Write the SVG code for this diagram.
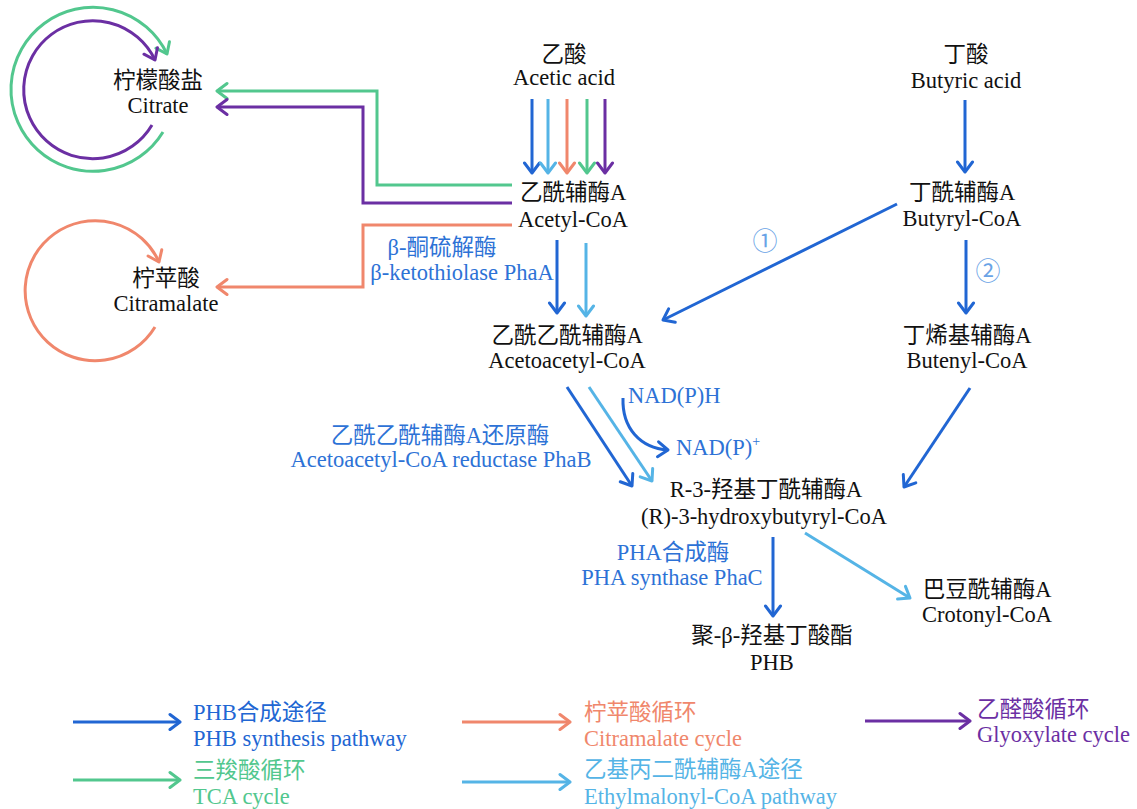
<svg xmlns="http://www.w3.org/2000/svg" width="1137" height="809" viewBox="0 0 1137 809">
<style>
text{font-family:"Liberation Serif","Noto Sans CJK SC",serif;font-size:22.5px;fill:#111}
.c{text-anchor:middle}
.lb{fill:#2d72d6;font-size:22.5px}
.ln{fill:none;stroke-width:3;stroke-linecap:butt;stroke-linejoin:miter}
.b{stroke:#2166d3}.lt{stroke:#55b4e6}.s{stroke:#f0876c}.g{stroke:#52c78e}.p{stroke:#6b2fa3}
</style>
<defs>
<marker id="mb" viewBox="-12 -10 14 20" markerWidth="14" markerHeight="20" refX="0" refY="0" orient="auto" markerUnits="userSpaceOnUse"><path d="M-10,-7.5 L0,0 L-10,7.5" fill="none" stroke="#2166d3" stroke-width="3" stroke-linecap="round" stroke-linejoin="round"/></marker>
<marker id="ml" viewBox="-12 -10 14 20" markerWidth="14" markerHeight="20" refX="0" refY="0" orient="auto" markerUnits="userSpaceOnUse"><path d="M-10,-7.5 L0,0 L-10,7.5" fill="none" stroke="#55b4e6" stroke-width="3" stroke-linecap="round" stroke-linejoin="round"/></marker>
<marker id="ms" viewBox="-12 -10 14 20" markerWidth="14" markerHeight="20" refX="0" refY="0" orient="auto" markerUnits="userSpaceOnUse"><path d="M-10,-7.5 L0,0 L-10,7.5" fill="none" stroke="#f0876c" stroke-width="3" stroke-linecap="round" stroke-linejoin="round"/></marker>
<marker id="mg" viewBox="-12 -10 14 20" markerWidth="14" markerHeight="20" refX="0" refY="0" orient="auto" markerUnits="userSpaceOnUse"><path d="M-10,-7.5 L0,0 L-10,7.5" fill="none" stroke="#52c78e" stroke-width="3" stroke-linecap="round" stroke-linejoin="round"/></marker>
<marker id="mp" viewBox="-12 -10 14 20" markerWidth="14" markerHeight="20" refX="0" refY="0" orient="auto" markerUnits="userSpaceOnUse"><path d="M-10,-7.5 L0,0 L-10,7.5" fill="none" stroke="#6b2fa3" stroke-width="3" stroke-linecap="round" stroke-linejoin="round"/></marker>
</defs>
<rect width="1137" height="809" fill="#fff"/>

<g id="connectors">
<line class="ln b" x1="532" y1="99" x2="532" y2="173" marker-end="url(#mb)"/>
<line class="ln lt" x1="548" y1="99" x2="548" y2="173" marker-end="url(#ml)"/>
<line class="ln s" x1="567" y1="99" x2="567" y2="173" marker-end="url(#ms)"/>
<line class="ln g" x1="587" y1="99" x2="587" y2="173" marker-end="url(#mg)"/>
<line class="ln p" x1="605" y1="99" x2="605" y2="173" marker-end="url(#mp)"/>
<polyline class="ln g" points="512,185 377,185 377,91 217,91" marker-end="url(#mg)"/>
<polyline class="ln p" points="512,203 363,203 363,107 217,107" marker-end="url(#mp)"/>
<polyline class="ln s" points="512,225 363,225 363,287 217,287" marker-end="url(#ms)"/>
<path class="ln g" d="M163,132 A82,82 0 1 1 167,54" marker-end="url(#mg)"/>
<path class="ln p" d="M152,125 A69,69 0 1 1 155,60" marker-end="url(#mp)"/>
<path class="ln s" d="M155,327 A70,70 0 1 1 159,262" marker-end="url(#ms)"/>
<line class="ln b" x1="557" y1="240" x2="557" y2="313" marker-end="url(#mb)"/>
<line class="ln lt" x1="586" y1="243" x2="586" y2="316" marker-end="url(#ml)"/>
<line class="ln b" x1="965" y1="100" x2="965" y2="172" marker-end="url(#mb)"/>
<line class="ln b" x1="897" y1="204" x2="663" y2="320" marker-end="url(#mb)"/>
<line class="ln b" x1="966" y1="240" x2="966" y2="313" marker-end="url(#mb)"/>
<line class="ln b" x1="970" y1="388" x2="904" y2="487" marker-end="url(#mb)"/>
<line class="ln b" x1="567" y1="387" x2="632" y2="486" marker-end="url(#mb)"/>
<line class="ln lt" x1="589" y1="387" x2="652" y2="481" marker-end="url(#ml)"/>
<path class="ln b" d="M623,398 C622,428 640,448 668,450" marker-end="url(#mb)"/>
<line class="ln b" x1="773" y1="537" x2="773" y2="616" marker-end="url(#mb)"/>
<line class="ln lt" x1="805" y1="533" x2="910" y2="598" marker-end="url(#ml)"/>
</g>

<g id="acetic-acid"><text class="c" x="564" y="62">乙酸</text><text class="c" x="564" y="85">Acetic acid</text></g>
<g id="butyric-acid"><text class="c" x="966" y="62">丁酸</text><text class="c" x="966" y="88">Butyric acid</text></g>
<g id="acetyl-coa"><text class="c" x="573" y="200">乙酰辅酶A</text><text class="c" x="573" y="227">Acetyl-CoA</text></g>
<g id="butyryl-coa"><text class="c" x="962" y="200">丁酰辅酶A</text><text class="c" x="962" y="226">Butyryl-CoA</text></g>
<g id="citrate"><text class="c" x="158" y="88">柠檬酸盐</text><text class="c" x="158" y="113">Citrate</text></g>
<g id="citramalate"><text class="c" x="166" y="286">柠苹酸</text><text class="c" x="166" y="311">Citramalate</text></g>
<g id="acetoacetyl-coa"><text class="c" x="567" y="343">乙酰乙酰辅酶A</text><text class="c" x="567" y="368">Acetoacetyl-CoA</text></g>
<g id="butenyl-coa"><text class="c" x="967" y="343">丁烯基辅酶A</text><text class="c" x="967" y="368">Butenyl-CoA</text></g>
<g id="r3hb-coa"><text class="c" x="766" y="497">R-3-羟基丁酰辅酶A</text><text class="c" x="764" y="524">(R)-3-hydroxybutyryl-CoA</text></g>
<g id="crotonyl-coa"><text class="c" x="987" y="597">巴豆酰辅酶A</text><text class="c" x="987" y="622">Crotonyl-CoA</text></g>
<g id="phb"><text class="c" x="772" y="643">聚-β-羟基丁酸酯</text><text class="c" x="772" y="670">PHB</text></g>

<g id="labels">
<text class="c lb" x="442" y="255">β-酮硫解酶</text>
<text class="c lb" x="462" y="280">β-ketothiolase PhaA</text>
<text class="c lb" x="440" y="443">乙酰乙酰辅酶A还原酶</text>
<text class="c lb" x="441" y="467">Acetoacetyl-CoA reductase PhaB</text>
<text class="c lb" x="673" y="560">PHA合成酶</text>
<text class="c lb" x="672" y="585">PHA synthase PhaC</text>
<text class="lb" x="628" y="403">NAD(P)H</text>
<text class="lb" x="676" y="455">NAD(P)<tspan font-size="14" dy="-9">+</tspan></text>
<text class="c lb" x="765" y="250" style="font-family:'Noto Sans CJK SC',sans-serif;fill:#6aa3e6;font-size:25px">①</text>
<text class="c lb" x="988" y="280" style="font-family:'Noto Sans CJK SC',sans-serif;fill:#6aa3e6;font-size:25px">②</text>
</g>

<g id="legend">
<line class="ln b" x1="73" y1="722" x2="180" y2="722" marker-end="url(#mb)"/>
<text x="193" y="720" style="fill:#2166d3">PHB合成途径</text>
<text x="193" y="746" style="fill:#2166d3">PHB synthesis pathway</text>
<line class="ln s" x1="462" y1="722" x2="570" y2="722" marker-end="url(#ms)"/>
<text x="584" y="720" style="fill:#f0876c">柠苹酸循环</text>
<text x="584" y="746" style="fill:#f0876c">Citramalate cycle</text>
<line class="ln p" x1="865" y1="721" x2="970" y2="721" marker-end="url(#mp)"/>
<text x="977" y="717" style="fill:#6b2fa3">乙醛酸循环</text>
<text x="977" y="742" style="fill:#6b2fa3">Glyoxylate cycle</text>
<line class="ln g" x1="73" y1="780" x2="180" y2="780" marker-end="url(#mg)"/>
<text x="193" y="778" style="fill:#52c78e">三羧酸循环</text>
<text x="193" y="804" style="fill:#52c78e">TCA cycle</text>
<line class="ln lt" x1="462" y1="782" x2="570" y2="782" marker-end="url(#ml)"/>
<text x="584" y="777" style="fill:#55b4e6">乙基丙二酰辅酶A途径</text>
<text x="584" y="804" style="fill:#55b4e6">Ethylmalonyl-CoA pathway</text>
</g>
</svg>
